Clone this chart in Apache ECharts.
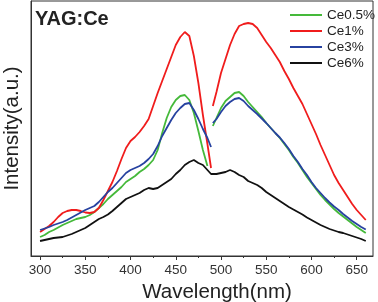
<!DOCTYPE html>
<html>
<head>
<meta charset="utf-8">
<script src="https://cdn.jsdelivr.net/npm/echarts@6/dist/echarts.min.js"></script>
<style>
html,body{margin:0;padding:0;background:#fff;}
#chart{width:378px;height:302px;}
</style>
</head>
<body>
<div id="chart"></div>
<script>
// Shared wavelength grid (nm)
var wavelength = [300,305,310,315,320,325,330,335,340,345,350,355,360,365,370,375,380,385,390,395,400,405,410,415,420,425,430,435,440,445,450,455,460,465,470,475,480,485,489,490,491,495,500,505,510,515,520,525,530,535,540,545,550,555,560,565,570,575,580,585,590,595,600,605,610,615,620,625,630,635,640,645,650,655,660];

var ce05 = [19,21,24,26,28.5,31,33,35,37,38, 39,41,44,48,52,57,61,65,69,74, 77,80,84,87,91,96,106,123,138,149, 156,160,161,156,143,125,106,90, null,null,130,
  138,148,155,159,163,164,160,154,149,144, 139,133,128,123,118,112,106,99,93,86, 79,73,67,61,56,51.5,47,43,39.5,36, 32.5,29,26,23];

var ce1 = [24,27,30,34,39,43,45,46,46,45, 43.5,43,44,48,56,65,74,85,97,108, 115,119,124,130,137,150,163,175,187,199, 211,219,224,220,200,173,141,112, 88,null,150,
  164,183,197,211,222,230,232,233,232,228, 221,214,208,201,194,185,177,168,160,152, 142,132,122,111,101,91,81,73,66,59, 52,46,41,36];

var ce3 = [26,27.5,29,31,32.5,34,36,38.5,41,43.5, 46,48,50,54,59,64,68,73,78,83, 86,88,90,93,97,102,110,120,128,136, 143,148,152,153,146,137,127,118, 109,null,133,
  137,144,150,154,157,158,155,150,146,142, 137.5,133,128,123,118.5,113,107,100,94,87, 81,74,68,63,58,53.5,49.5,46,42,38.5, 35,32,29,26.5];

var ce6 = [15,16,17,18,18.5,19,20.5,22,24,26, 28,31,34,37,39,41.5,45,49,53,57, 59,61,63,66,68,67,68,71,74,77, 82,86,91,94,96,93,91,86, 82,81,81,
  82,83,84,86,84,81,79,75,73,71, 68,64,61,58,55,52,49,46.5,44,41.5, 38.5,36,33.5,31,29,27,25.5,24,23,21.5, 20,18.5,17,15];

var seriesNames = ['Ce0.5%','Ce1%','Ce3%','Ce6%'];
var seriesColors = ['#45b93a','#f01c1c','#2742a0','#111111'];
var majorTicks = [300,350,400,450,500,550,600,650];
var minorTicks = [325,375,425,475,525,575,625];

function pairs(vals){
  return wavelength.map(function(w,i){ return [w, vals[i]]; });
}
var allVals = [ce05, ce1, ce3, ce6];
var FONT = 'Liberation Sans, Arial, sans-serif';

var chart = echarts.init(document.getElementById('chart'));
chart.setOption({
  animation: false,
  backgroundColor: '#fff',
  title: {
    text: 'YAG:Ce', left: 35, top: 9, padding: 0,
    textStyle: {fontSize: 20, fontWeight: 'bold', fontFamily: FONT, color: '#222'}
  },
  legend: {
    orient: 'vertical', left: 290, top: 8, padding: 0,
    icon: 'rect', itemWidth: 32, itemHeight: 2, itemGap: 2,
    textStyle: {fontSize: 13.5, fontFamily: FONT, color: '#222', lineHeight: 14},
    data: seriesNames
  },
  grid: {left: 31, right: 5, top: 1, bottom: 46, show: true, borderColor: '#333', borderWidth: 1,
         outerBoundsMode: 'none', containLabel: false},
  xAxis: [{
    type: 'value', min: 290, max: 668,
    name: 'Wavelength(nm)', nameLocation: 'middle', nameGap: 24,
    nameTextStyle: {fontSize: 20.5, fontFamily: FONT, color: '#222', padding: [0,0,0,30]},
    axisLine: {show: true, lineStyle: {color: '#333', width: 1}},
    axisTick: {show: true, customValues: majorTicks, length: 4, lineStyle: {color: '#333'}},
    axisLabel: {customValues: majorTicks, fontSize: 13.5, fontFamily: FONT, color: '#333', margin: 7},
    splitLine: {show: false}
  }, {
    type: 'value', min: 290, max: 668, position: 'bottom',
    axisLine: {show: false},
    axisTick: {show: true, customValues: minorTicks, length: 2, lineStyle: {color: '#333'}},
    axisLabel: {show: false},
    splitLine: {show: false}
  }],
  yAxis: {
    type: 'value', min: 0, max: 255,
    name: 'Intensity(a.u.)', nameLocation: 'middle', nameGap: 8,
    nameTextStyle: {fontSize: 20.5, fontFamily: FONT, color: '#222'},
    axisLine: {show: true, lineStyle: {color: '#333', width: 1}},
    axisTick: {show: false}, axisLabel: {show: false}, splitLine: {show: false}
  },
  series: seriesNames.map(function(n, i){
    return {
      name: n, type: 'line', xAxisIndex: 0, data: pairs(allVals[i]),
      showSymbol: false, symbol: 'none', connectNulls: false,
      lineStyle: {color: seriesColors[i], width: 1.8},
      itemStyle: {color: seriesColors[i]}
    };
  })
});
</script>
</body>
</html>
